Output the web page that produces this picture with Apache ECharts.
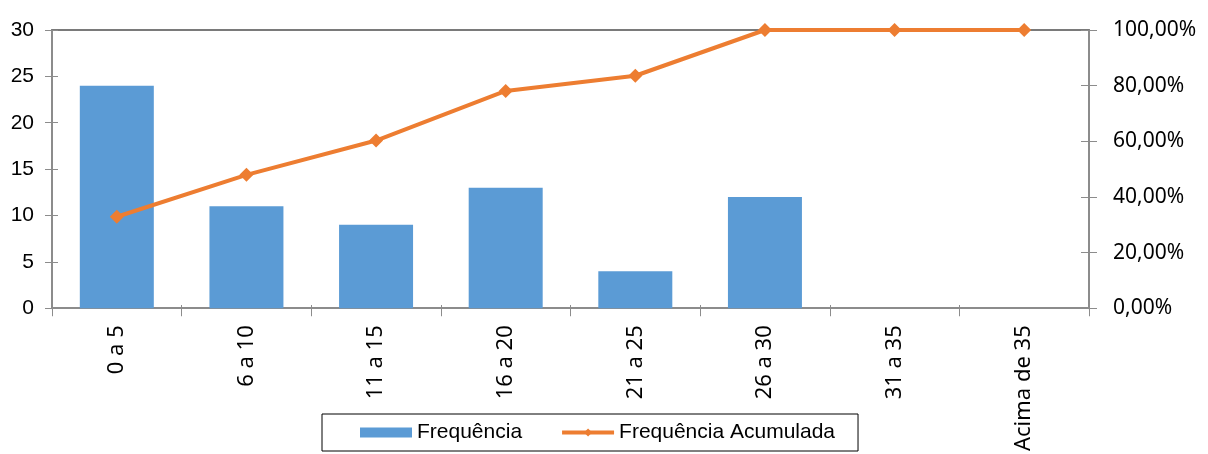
<!DOCTYPE html>
<html>
<head>
<meta charset="utf-8">
<script src="https://cdn.jsdelivr.net/npm/echarts@6/dist/echarts.min.js"></script>
<style>html,body{margin:0;padding:0;background:#fff;}#c{width:1208px;height:454px;}</style>
</head>
<body>
<div id="c"></div>
<script>
var categories = ['0 a 5', '6 a 10', '11 a 15', '16 a 20', '21 a 25', '26 a 30', '31 a 35', 'Acima de 35'];
var frequencia = [24, 11, 9, 13, 4, 12, 0, 0];
var acumulada = [0.3288, 0.4795, 0.6027, 0.7808, 0.8356, 1.0, 1.0, 1.0];
var leftTicks = [0, 30, 5];
var rightTicks = [0, 1, 0.2];

var axisGray = '#8c8c8c';
var chart = echarts.init(document.getElementById('c'), null, {renderer: 'canvas'});
function pct(v) { return (v * 100).toFixed(2).replace('.', ',') + '%'; }
var plotHeight = 454 - 30 - 145;
var option = {
  animation: false,
  backgroundColor: '#ffffff',
  grid: {left: 52, right: 119, top: 30, bottom: 145, containLabel: false},
  legend: {
    left: 322, top: 414,
    padding: [8, 23, 8, 38],
    borderColor: '#000', borderWidth: 1,
    itemWidth: 52, itemHeight: 10, itemGap: 38,
    textStyle: {fontFamily: 'Liberation Sans', fontSize: 21, color: '#000'},
    data: [
      {name: 'Frequência', icon: 'rect', itemStyle: {borderWidth: 0}},
      {name: 'Frequência Acumulada', lineStyle: {width: 4}}
    ]
  },
  xAxis: [
    {
      type: 'category', data: categories, position: 'bottom', boundaryGap: true,
      axisLine: {show: true, lineStyle: {color: axisGray, width: 2}},
      axisTick: {show: true, alignWithLabel: false, length: 8, lineStyle: {color: axisGray, width: 1}},
      axisLabel: {rotate: 90, margin: 17, interval: 0, fontFamily: 'Noto Sans', fontSize: 22, color: '#000'}
    },
    {
      type: 'category', data: categories, position: 'top', boundaryGap: true,
      axisLine: {show: true, onZero: false, lineStyle: {color: '#7a7a7a', width: 2}},
      axisTick: {show: false}, axisLabel: {show: false}
    },
    {
      type: 'category', data: categories, position: 'top', offset: -plotHeight, boundaryGap: true,
      axisLine: {show: false, onZero: false},
      axisTick: {show: true, length: 4, lineStyle: {color: axisGray, width: 1}},
      axisLabel: {show: false}
    }
  ],
  yAxis: [
    {
      type: 'value', position: 'left', min: leftTicks[0], max: leftTicks[1], interval: leftTicks[2],
      axisLine: {show: true, lineStyle: {color: axisGray, width: 2}},
      axisTick: {show: true, length: 7, lineStyle: {color: axisGray, width: 1}},
      splitLine: {show: false},
      axisLabel: {margin: 18, fontFamily: 'Liberation Sans', fontSize: 21, color: '#000'}
    },
    {
      type: 'value', position: 'right', min: rightTicks[0], max: rightTicks[1], interval: rightTicks[2],
      axisLine: {show: true, lineStyle: {color: axisGray, width: 2}},
      axisTick: {show: true, length: 8, lineStyle: {color: axisGray, width: 1}},
      splitLine: {show: false},
      axisLabel: {margin: 24, fontFamily: 'Noto Sans', fontSize: 21, color: '#000', formatter: pct}
    },
    {
      type: 'value', position: 'left', min: leftTicks[0], max: leftTicks[1], interval: leftTicks[2],
      axisLine: {show: false}, splitLine: {show: false}, axisLabel: {show: false},
      axisTick: {show: true, inside: true, length: 6, lineStyle: {color: axisGray, width: 1}}
    },
    {
      type: 'value', position: 'right', min: rightTicks[0], max: rightTicks[1], interval: rightTicks[2],
      axisLine: {show: false}, splitLine: {show: false}, axisLabel: {show: false},
      axisTick: {show: true, inside: true, length: 8, lineStyle: {color: axisGray, width: 1}}
    }
  ],
  series: [
    {
      name: 'Frequência', type: 'bar', xAxisIndex: 0, yAxisIndex: 0,
      data: frequencia, barWidth: 74,
      itemStyle: {color: '#5b9bd5', borderWidth: 0}
    },
    {
      name: 'Frequência Acumulada', type: 'line', xAxisIndex: 0, yAxisIndex: 1,
      data: acumulada, symbol: 'diamond', symbolSize: 14,
      lineStyle: {color: '#ed7d31', width: 4},
      itemStyle: {color: '#ed7d31'}
    }
  ]
};
chart.setOption(option);
</script>
</body>
</html>
